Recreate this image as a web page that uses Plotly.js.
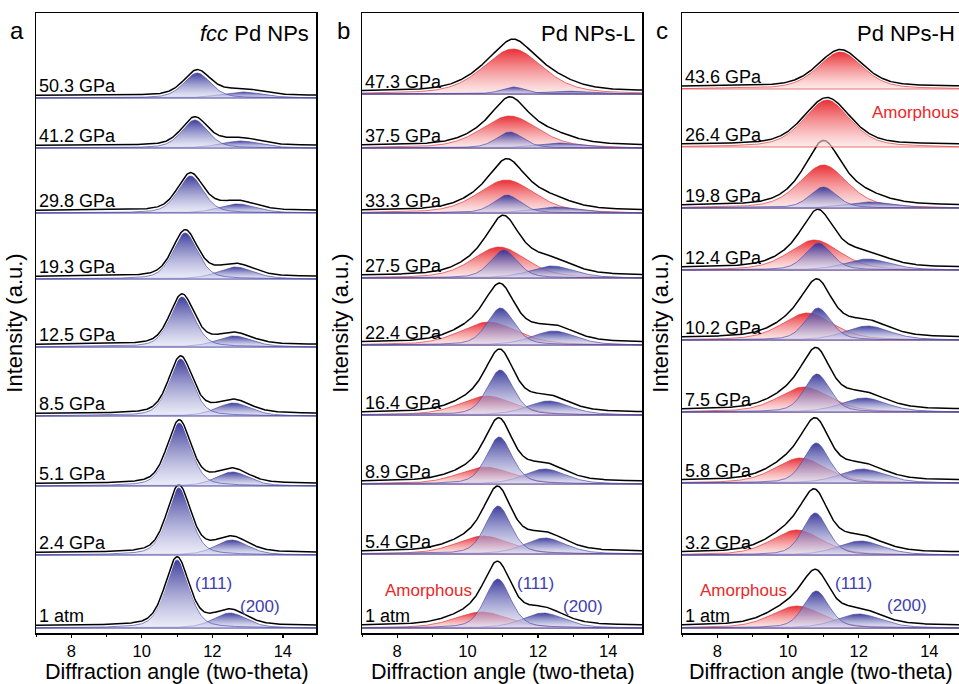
<!DOCTYPE html>
<html><head><meta charset="utf-8">
<script src="https://cdn.plot.ly/plotly-3.0.1.min.js"></script>
<style>html,body{margin:0;padding:0;background:#fff}#chart{width:959px;height:684px}</style>
</head><body><div id="chart"></div>
<script>
// ================= DATA =================
// Panel a: fcc Pd NPs  (rows bottom -> top)
const aLabels   = ['1 atm','2.4 GPa','5.1 GPa','8.5 GPa','12.5 GPa','19.3 GPa','29.8 GPa','41.2 GPa','50.3 GPa'];
const a111Pos   = [11.00, 11.05, 11.06, 11.10, 11.14, 11.23, 11.38, 11.50, 11.57];
const a111Int   = [68, 67, 63, 57, 50, 46, 37, 28, 25];
const a111Fwhm  = [0.80, 0.80, 0.80, 0.80, 0.82, 0.84, 0.86, 0.88, 0.90];
const a200Pos   = [12.50, 12.55, 12.57, 12.60, 12.62, 12.66, 12.72, 12.80, 12.85];
const a200Int   = [15, 15, 14, 13, 11, 12, 9, 7, 6];
const a200Fwhm  = [1.10, 1.10, 1.10, 1.15, 1.20, 1.20, 1.25, 1.30, 1.40];

// Panel b: Pd NPs-L
const bLabels   = ['1 atm','5.4 GPa','8.9 GPa','16.4 GPa','22.4 GPa','27.5 GPa','33.3 GPa','37.5 GPa','47.3 GPa'];
const bAmoPos   = [10.40, 10.45, 10.50, 10.55, 10.60, 10.90, 11.10, 11.20, 11.29];
const bAmoInt   = [16, 18, 17, 19, 23, 31, 33, 32, 45];
const bAmoFwhm  = [1.80, 1.80, 1.80, 1.80, 1.90, 1.80, 1.90, 1.90, 2.00];
const b111Pos   = [10.86, 10.87, 10.90, 10.93, 10.94, 11.03, 11.12, 11.20, 11.30];
const b111Int   = [49, 48, 47, 45, 37, 28, 18, 16, 7];
const b111Fwhm  = [0.86, 0.86, 0.86, 0.88, 0.90, 0.90, 0.90, 0.90, 0.80];
const b200Pos   = [12.15, 12.20, 12.20, 12.30, 12.45, 12.40, 12.50, 12.60, 12.70];
const b200Int   = [15, 16, 15, 14, 14, 12, 6, 5, 3];
const b200Fwhm  = [1.40, 1.40, 1.40, 1.45, 1.45, 1.50, 1.50, 1.50, 1.50];

// Panel c: Pd NPs-H
const cLabels   = ['1 atm','3.2 GPa','5.8 GPa','7.5 GPa','10.2 GPa','12.4 GPa','19.8 GPa','26.4 GPa','43.6 GPa'];
const cAmoPos   = [10.25, 10.25, 10.35, 10.45, 10.55, 10.75, 11.00, 11.10, 11.48];
const cAmoInt   = [22, 25, 25, 25, 27, 30, 43, 47, 37];
const cAmoFwhm  = [1.70, 1.70, 1.70, 1.70, 1.70, 1.70, 1.60, 1.55, 1.50];
const c111Pos   = [10.80, 10.77, 10.80, 10.82, 10.85, 10.86, 11.00, 11.10, 11.40];
const c111Int   = [37, 42, 40, 38, 32, 27, 21, 0, 0];
const c111Fwhm  = [0.85, 0.85, 0.85, 0.85, 0.86, 0.88, 0.90, 0.90, 0.90];
const c200Pos   = [12.00, 12.05, 12.10, 12.15, 12.25, 12.25, 12.30, 12.50, 12.60];
const c200Int   = [14, 14, 14, 14, 14, 11, 6, 0, 0];
const c200Fwhm  = [1.50, 1.50, 1.50, 1.50, 1.50, 1.50, 1.50, 1.50, 1.50];

const xTicks = [8, 10, 12, 14];
const xTitle = 'Diffraction angle (two-theta)';
const yTitle = 'Intensity (a.u.)';

// ================= STYLE / LAYOUT CONSTANTS =================
const FONT = 'Liberation Sans, Arial, sans-serif';
// vertical stacking offsets of each pattern (a.u.), bottom -> top
const aOffsets = [5, 78, 147, 217, 286, 354, 420, 485, 535];
const bOffsets = [5, 79, 149, 218, 288, 355, 420, 485, 539];
const cOffsets = [5, 78, 150, 221, 293, 363, 425, 486, 544];
const ETA = 0.4;          // Lorentzian fraction of pseudo-Voigt profile
const ENV_LIFT = 2.5;     // measured curve drawn just above the fit
const BLUE = [[0,'rgba(222,222,244,0.55)'],[1,'rgba(48,48,150,0.93)']];
const RED  = [[0,'rgba(253,222,222,0.6)'],[1,'rgba(232,32,38,0.93)']];

function pv(x, c, h, w) {
  const d = x - c;
  const L = 1 / (1 + (2 * d / w) ** 2);
  const G = Math.exp(-4 * Math.LN2 * d * d / (w * w));
  return h * (ETA * L + (1 - ETA) * G);
}
const xs = [];
for (let i = 0; i <= 400; i++) xs.push(7 + i * 0.02);

const traces = [];
function buildPanel(ax, ay, offsets, comps) {
  for (let k = 0; k < offsets.length; k++) {
    const off = offsets[k];
    const env = xs.map(() => 0);
    comps.forEach(cp => {
      const h = cp.int[k];
      if (!h) return;
      const ys = xs.map(x => pv(x, cp.pos[k], h, cp.fwhm[k]));
      ys.forEach((v, i) => env[i] += v);
      traces.push({
        x: xs.concat(xs.slice().reverse()),
        y: ys.map(v => off + v).concat(xs.map(() => off)),
        xaxis: ax, yaxis: ay, mode: 'lines', fill: 'toself',
        fillgradient: {type: 'vertical', colorscale: cp.kind === 'red' ? RED : BLUE},
        line: {width: 0.8, color: cp.kind === 'red' ? 'rgba(225,50,50,0.85)' : 'rgba(75,75,165,0.85)'},
        hoverinfo: 'skip', showlegend: false
      });
    });
    const ey = env.map(v => off + v + ENV_LIFT);
    traces.push({x: xs, y: ey, xaxis: ax, yaxis: ay, mode: 'lines',
      line: {width: 3, color: '#ffffff'}, hoverinfo: 'skip', showlegend: false});
    traces.push({x: xs, y: ey, xaxis: ax, yaxis: ay, mode: 'lines',
      line: {width: 1.5, color: '#000000'}, hoverinfo: 'skip', showlegend: false});
  }
}
buildPanel('x', 'y', aOffsets, [
  {kind: 'blue', pos: a200Pos, int: a200Int, fwhm: a200Fwhm},
  {kind: 'blue', pos: a111Pos, int: a111Int, fwhm: a111Fwhm}]);
buildPanel('x2', 'y2', bOffsets, [
  {kind: 'red', pos: bAmoPos, int: bAmoInt, fwhm: bAmoFwhm},
  {kind: 'blue', pos: b200Pos, int: b200Int, fwhm: b200Fwhm},
  {kind: 'blue', pos: b111Pos, int: b111Int, fwhm: b111Fwhm}]);
buildPanel('x3', 'y3', cOffsets, [
  {kind: 'red', pos: cAmoPos, int: cAmoInt, fwhm: cAmoFwhm},
  {kind: 'blue', pos: c200Pos, int: c200Int, fwhm: c200Fwhm},
  {kind: 'blue', pos: c111Pos, int: c111Int, fwhm: c111Fwhm}]);

const W = 959, H = 684;
const yDom = [51 / H, 671 / H];
function xAxis(dom, rng, anchor) {
  return {domain: dom, range: rng, anchor: anchor, showline: true, linecolor: '#000', linewidth: 1.5,
    mirror: true, ticks: 'outside', ticklen: 3, tickwidth: 1.3, tickcolor: '#000',
    tickvals: xTicks, ticktext: xTicks.map(String), showgrid: false, zeroline: false,
    minor: {ticks: 'outside', ticklen: 2, tickwidth: 1, tickcolor: '#000', dtick: 1, tick0: 7, showgrid: false},
    tickfont: {family: FONT, size: 16.5, color: '#000'},
    automargin: false, fixedrange: true};
}
function yAxis(anchor, mirror) {
  return {domain: yDom, range: [0, 620], anchor: anchor, showline: true, linecolor: '#000', linewidth: 1.5,
    mirror: mirror, ticks: '', showticklabels: false, showgrid: false, zeroline: false,
    title: {text: yTitle, font: {family: FONT, size: 22, color: '#000'}, standoff: 6},
    automargin: false, fixedrange: true};
}

const annotations = [];
function addRowLabels(ax, ay, labels, offsets) {
  labels.forEach((t, k) => annotations.push({xref: ax, yref: ay, x: 7.03, y: offsets[k],
    text: t, showarrow: false, xanchor: 'left', yanchor: 'bottom', yshift: 0,
    font: {family: FONT, size: 18, color: '#000'}}));
}
addRowLabels('x', 'y', aLabels, aOffsets);
addRowLabels('x2', 'y2', bLabels, bOffsets);
addRowLabels('x3', 'y3', cLabels, cOffsets);

function txt(ax, ay, x, y, t, color, size) {
  annotations.push({xref: ax, yref: ay, x: x, y: y, text: t, showarrow: false,
    xanchor: 'center', yanchor: 'middle', font: {family: FONT, size: size, color: color}});
}
const BLUE_TXT = 'rgb(62,62,175)', RED_TXT = 'rgb(235,40,40)';
txt('x', 'y', 12.03, 50, '(111)', BLUE_TXT, 17);
txt('x', 'y', 13.36, 27, '(200)', BLUE_TXT, 17);
txt('x2', 'y2', 8.88, 43, 'Amorphous', RED_TXT, 17);
txt('x2', 'y2', 11.94, 50, '(111)', BLUE_TXT, 17);
txt('x2', 'y2', 13.28, 27, '(200)', BLUE_TXT, 17);
txt('x3', 'y3', 8.73, 43, 'Amorphous', RED_TXT, 17);
txt('x3', 'y3', 11.84, 50, '(111)', BLUE_TXT, 17);
txt('x3', 'y3', 13.37, 28, '(200)', BLUE_TXT, 17);
txt('x3', 'y3', 13.6, 520, 'Amorphous', RED_TXT, 17);

function paperText(px, py, t, xanchor, yanchor, size, yshift) {
  annotations.push({xref: 'paper', yref: 'paper', x: px / W, y: 1 - py / H, text: t, showarrow: false,
    xanchor: xanchor, yanchor: yanchor, yshift: yshift || 0, font: {family: FONT, size: size, color: '#000'}});
}
paperText(17, 31, 'a', 'center', 'middle', 24);
paperText(343, 31, 'b', 'center', 'middle', 24);
paperText(662, 31, 'c', 'center', 'middle', 24);
paperText(311, 33, '<i>fcc</i> Pd NPs', 'right', 'middle', 22);
paperText(637, 33, 'Pd NPs-L', 'right', 'middle', 22);
paperText(957, 33, 'Pd NPs-H', 'right', 'middle', 22);
// x-axis titles
paperText(177, 684, xTitle, 'center', 'bottom', 21.5, -1.5);
paperText(503, 684, xTitle, 'center', 'bottom', 21.5, -1.5);
paperText(821, 684, xTitle, 'center', 'bottom', 21.5, -1.5);

const layout = {
  width: W, height: H, margin: {l: 0, r: 0, t: 0, b: 0},
  paper_bgcolor: '#fff', plot_bgcolor: '#fff', showlegend: false,
  xaxis: xAxis([36 / W, 316 / W], [7, 14.94], 'y'),
  xaxis2: xAxis([362 / W, 642 / W], [7, 14.96], 'y2'),
  xaxis3: xAxis([682 / W, 1], [7, 14.84], 'y3'),
  yaxis: yAxis('x', true), yaxis2: yAxis('x2', true), yaxis3: yAxis('x3', false),
  annotations: annotations
};
Plotly.newPlot('chart', traces, layout, {displayModeBar: false, staticPlot: true});
</script></body></html>
